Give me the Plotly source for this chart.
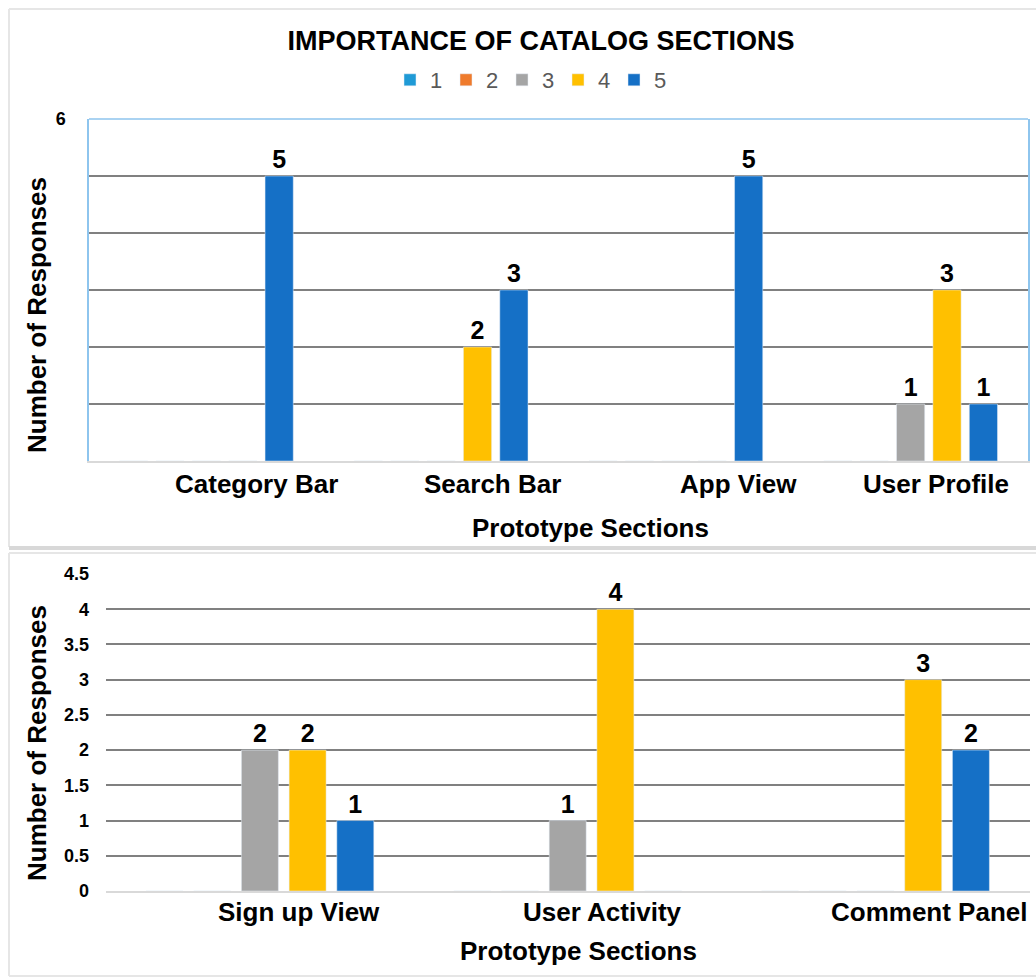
import plotly.graph_objects as go

# ---------------- data ----------------
series_names = ["1", "2", "3", "4", "5"]

top_categories = ["Category Bar", "Search Bar", "App View", "User Profile"]
top_s1 = [0, 0, 0, 0]
top_s2 = [0, 0, 0, 0]
top_s3 = [0, 0, 0, 1]
top_s4 = [0, 2, 0, 3]
top_s5 = [5, 3, 5, 1]

bottom_categories = ["Sign up View", "User Activity", "Comment Panel"]
bottom_s1 = [0, 0, 0]
bottom_s2 = [0, 0, 0]
bottom_s3 = [2, 1, 0]
bottom_s4 = [2, 4, 3]
bottom_s5 = [1, 0, 2]

top_y_ticks = [0, 1, 2, 3, 4, 5, 6]
top_y_ticktext = ["", "", "", "", "", "", "6"]
bottom_y_ticks = [0, 0.5, 1, 1.5, 2, 2.5, 3, 3.5, 4, 4.5]
bottom_y_ticktext = ["0", "0.5", "1", "1.5", "2", "2.5", "3", "3.5", "4", "4.5"]

title_text = "IMPORTANCE OF CATALOG SECTIONS"
y_title = "Number of Responses"
x_title = "Prototype Sections"

# ---------------- style ----------------
colors = ["#1f9ad6", "#ef7b2c", "#a5a5a5", "#ffc000", "#1570c6"]
FONT = "Liberation Sans, Arial, sans-serif"
top_label_shift = [50, 51, 63, 25]
bottom_label_shift = [39, 35, 54]

top_series = [top_s1, top_s2, top_s3, top_s4, top_s5]
bottom_series = [bottom_s1, bottom_s2, bottom_s3, bottom_s4, bottom_s5]


def labels(vals):
    return [str(v) if v else "" for v in vals]


fig = go.Figure()
for name, col, vals in zip(series_names, colors, top_series):
    fig.add_trace(go.Bar(
        x=top_categories, y=vals, name=name, marker_color=col,
        text=labels(vals), textposition="outside", cliponaxis=False,
        textfont=dict(family=FONT, size=25, color="black", weight="bold"),
        xaxis="x", yaxis="y", legendgroup=name, showlegend=True,
    ))
for name, col, vals in zip(series_names, colors, bottom_series):
    fig.add_trace(go.Bar(
        x=bottom_categories, y=vals, name=name, marker_color=col,
        text=labels(vals), textposition="outside", cliponaxis=False,
        textfont=dict(family=FONT, size=25, color="black", weight="bold"),
        xaxis="x2", yaxis="y2", legendgroup=name, showlegend=False,
    ))

W, H = 1036, 978


def px(xp):
    return xp / W


def py(yp):
    return 1 - yp / H


grid_col = "#808080"
blue_border = "#8ec5ee"
light = "#d9d9d9"

fig.update_layout(
    width=W, height=H,
    margin=dict(l=0, r=0, t=0, b=0, autoexpand=False),
    paper_bgcolor="white", plot_bgcolor="white",
    barmode="group", bargap=0.225, bargroupgap=0.225,
    font=dict(family=FONT, color="black"),
    title=dict(text=title_text, x=px(541), y=py(41), xanchor="center", yanchor="middle",
               font=dict(family=FONT, size=27, color="black", weight="bold")),
    legend=dict(orientation="h", x=px(530), y=py(80), xanchor="center", yanchor="middle",
                font=dict(family=FONT, size=22, color="#595959"),
                entrywidth=11, entrywidthmode="pixels", itemwidth=30,
                bgcolor="rgba(0,0,0,0)"),
    xaxis=dict(domain=[px(89), px(1028)], anchor="y", showticklabels=False, ticks="",
               showline=True, linecolor=light, linewidth=2, showgrid=False,
               fixedrange=True),
    yaxis=dict(domain=[py(461), py(119)], anchor="x", range=[0, 6],
               tickvals=top_y_ticks, ticktext=top_y_ticktext, ticks="",
               ticklabelstandoff=18,
               tickfont=dict(family=FONT, size=18, color="black", weight="bold"),
               showgrid=True, gridcolor=grid_col, gridwidth=1.5, zeroline=False,
               showline=True, linecolor=blue_border, linewidth=1.5, mirror=True),
    xaxis2=dict(domain=[px(106), px(1030)], anchor="y2", showticklabels=False, ticks="",
                showline=True, linecolor=light, linewidth=2, showgrid=False),
    yaxis2=dict(domain=[py(891), py(574)], anchor="x2", range=[0, 4.5],
                tickvals=bottom_y_ticks, ticktext=bottom_y_ticktext, ticks="",
                ticklabelstandoff=16,
                tickfont=dict(family=FONT, size=18, color="black", weight="bold"),
                showgrid=True, gridcolor=grid_col, gridwidth=1.5, zeroline=False,
                showline=False),
)

annotations = []
lab_font = dict(family=FONT, size=26, color="black", weight="bold")
for cat, sh in zip(top_categories, top_label_shift):
    annotations.append(dict(text=cat, x=cat, xref="x", y=py(484), yref="paper",
                            xanchor="center", yanchor="middle", xshift=sh,
                            showarrow=False, font=lab_font))
for cat, sh in zip(bottom_categories, bottom_label_shift):
    annotations.append(dict(text=cat, x=cat, xref="x2", y=py(912), yref="paper",
                            xanchor="center", yanchor="middle", xshift=sh,
                            showarrow=False, font=lab_font))
annotations += [
    dict(text=x_title, x=px(590), y=py(528), xref="paper", yref="paper",
         xanchor="center", yanchor="middle", showarrow=False, font=lab_font),
    dict(text=x_title, x=px(578), y=py(951), xref="paper", yref="paper",
         xanchor="center", yanchor="middle", showarrow=False, font=lab_font),
    dict(text=y_title, x=px(37), y=py(315), xref="paper", yref="paper", textangle=-90,
         xanchor="center", yanchor="middle", showarrow=False, font=lab_font),
    dict(text=y_title, x=px(37), y=py(743), xref="paper", yref="paper", textangle=-90,
         xanchor="center", yanchor="middle", showarrow=False, font=lab_font),
]
fig.update_layout(annotations=annotations)

frame = "#e6e6e6"
shapes = [
    # top border of upper plot area (light blue)
    dict(type="line", xref="x domain", yref="y domain", x0=0, x1=1, y0=1, y1=1,
         line=dict(color=blue_border, width=1.5), layer="above"),
    # outer frames of the two panels
    dict(type="line", xref="paper", yref="paper", x0=px(9), x1=1, y0=py(9), y1=py(9),
         line=dict(color=frame, width=2)),
    dict(type="line", xref="paper", yref="paper", x0=px(9), x1=px(9), y0=py(9), y1=py(547),
         line=dict(color=frame, width=2)),
    dict(type="line", xref="paper", yref="paper", x0=px(9), x1=1, y0=py(548), y1=py(548),
         line=dict(color="#d8d8d8", width=4)),
    dict(type="line", xref="paper", yref="paper", x0=px(9), x1=1, y0=py(553), y1=py(553),
         line=dict(color=frame, width=2)),
    dict(type="line", xref="paper", yref="paper", x0=px(9), x1=px(9), y0=py(553), y1=py(976),
         line=dict(color=frame, width=2)),
    dict(type="line", xref="paper", yref="paper", x0=px(9), x1=1, y0=py(976), y1=py(976),
         line=dict(color=frame, width=2)),
]
fig.update_layout(shapes=shapes)

fig.write_html("out.html")
